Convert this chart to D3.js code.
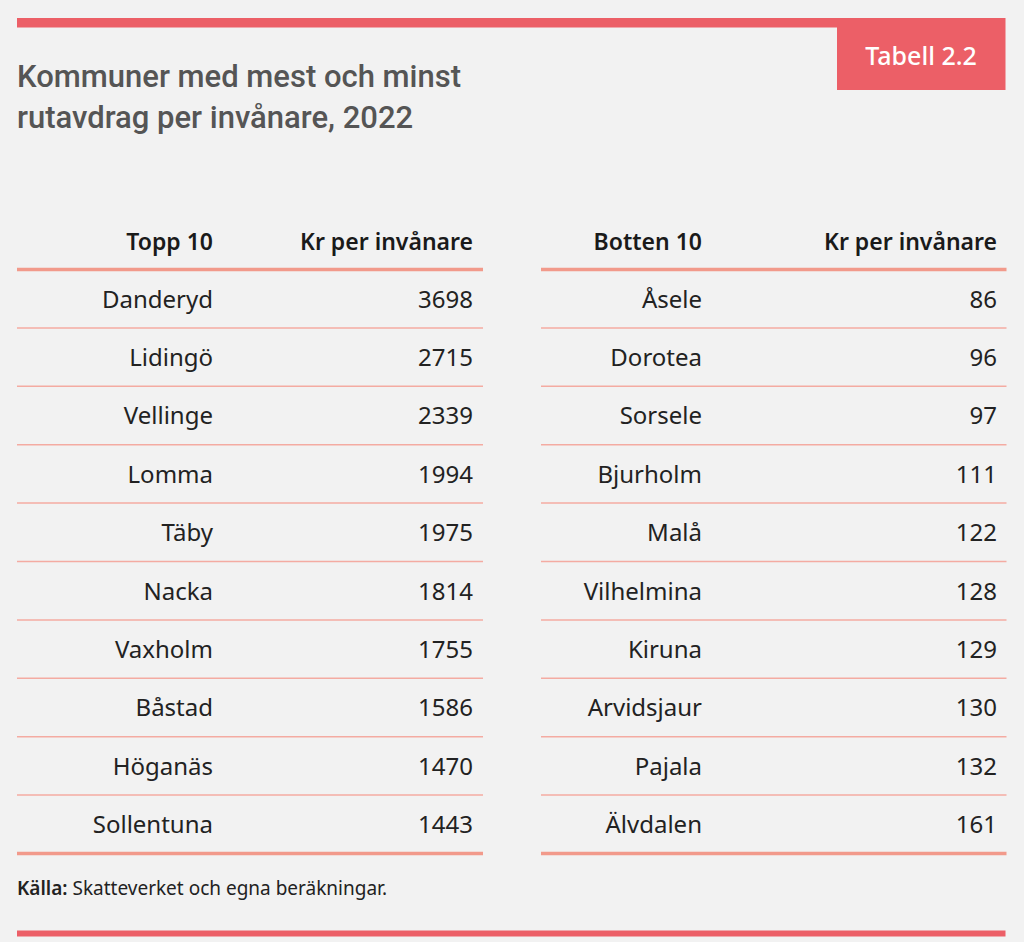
<!DOCTYPE html>
<html>
<head>
<meta charset="utf-8">
<script src="https://cdn.jsdelivr.net/npm/d3@7"></script>
<style>
  html, body { margin: 0; padding: 0; background: #f2f2f2; }
  svg { display: block; }
</style>
</head>
<body>
<svg id="chart" width="1024" height="942"></svg>
<script>
// data
const titleLines = ['Kommuner med mest och minst', 'rutavdrag per invånare, 2022']
const tableLabel = 'Tabell 2.2'
const topHeaders = ['Topp 10', 'Kr per invånare']
const bottomHeaders = ['Botten 10', 'Kr per invånare']
const topNames = ['Danderyd', 'Lidingö', 'Vellinge', 'Lomma', 'Täby', 'Nacka', 'Vaxholm', 'Båstad', 'Höganäs', 'Sollentuna']
const topValues = [3698, 2715, 2339, 1994, 1975, 1814, 1755, 1586, 1470, 1443]
const bottomNames = ['Åsele', 'Dorotea', 'Sorsele', 'Bjurholm', 'Malå', 'Vilhelmina', 'Kiruna', 'Arvidsjaur', 'Pajala', 'Älvdalen']
const bottomValues = [86, 96, 97, 111, 122, 128, 129, 130, 132, 161]
const sourceBold = 'Källa:'
const sourceText = ' Skatteverket och egna beräkningar.'

const red = '#ec5f67'
const salmon = '#f29a8b'
const thin = '#f4aba2'
const font = '"Noto Sans", "Open Sans", sans-serif'

const svg = d3.select('#chart')

// frame
svg.append('rect').attr('x', 17).attr('y', 18).attr('width', 988).attr('height', 9.5).attr('fill', red)
svg.append('rect').attr('x', 837).attr('y', 18).attr('width', 168.5).attr('height', 72).attr('fill', red)
svg.append('text')
  .attr('x', 921).attr('y', 65)
  .attr('text-anchor', 'middle')
  .style('font-family', font).style('font-size', '25px').style('font-weight', 500)
  .attr('fill', '#fff')
  .text(tableLabel)
svg.append('rect').attr('x', 17).attr('y', 930.5).attr('width', 988.5).attr('height', 6).attr('fill', red)

// title
svg.append('g')
  .selectAll('text')
  .data(titleLines)
  .enter()
  .append('text')
  .attr('x', 17)
  .attr('y', (d, i) => 87 + i * 41)
  .style('font-family', 'Roboto, sans-serif')
  .style('font-size', '31px')
  .style('font-weight', 500)
  .attr('fill', '#555')
  .text((d) => d)

function drawTable(g, x0, x1, nameX, valueX, headers, names, values) {
  const y = d3.scaleBand()
    .domain(names)
    .range([269.5, 853.5])
    .padding(0)

  g.selectAll('text.head')
    .data(headers)
    .enter()
    .append('text')
    .attr('class', 'head')
    .attr('x', (d, i) => (i === 0 ? nameX : valueX))
    .attr('y', 250)
    .attr('text-anchor', 'end')
    .style('font-family', font).style('font-size', '23px').style('font-weight', 600)
    .attr('fill', '#1a1a1a')
    .text((d) => d)

  // thin separators
  g.selectAll('line.sep')
    .data(names.slice(1))
    .enter()
    .append('line')
    .attr('class', 'sep')
    .attr('x1', x0).attr('x2', x1)
    .attr('y1', (d) => y(d)).attr('y2', (d) => y(d))
    .attr('stroke', thin).attr('stroke-width', 1.5)

  // thick rules
  g.selectAll('line.rule')
    .data(y.range())
    .enter()
    .append('line')
    .attr('class', 'rule')
    .attr('x1', x0).attr('x2', x1)
    .attr('y1', (d) => d).attr('y2', (d) => d)
    .attr('stroke', salmon).attr('stroke-width', 3.5)

  const rows = g.selectAll('g.row')
    .data(names)
    .enter()
    .append('g')
    .attr('class', 'row')
    .attr('transform', (d) => `translate(0,${y(d) + 38})`)

  rows.append('text')
    .attr('x', nameX)
    .attr('text-anchor', 'end')
    .style('font-family', font).style('font-size', '24px')
    .attr('fill', '#222')
    .text((d) => d)

  rows.append('text')
    .attr('x', valueX)
    .attr('text-anchor', 'end')
    .style('font-family', font).style('font-size', '24px')
    .attr('fill', '#222')
    .text((d, i) => values[i])
}

drawTable(svg.append('g'), 17, 483, 213, 473, topHeaders, topNames, topValues)
drawTable(svg.append('g'), 541, 1006.5, 702, 997, bottomHeaders, bottomNames, bottomValues)

// source
const src = svg.append('text')
  .attr('x', 17).attr('y', 895)
  .style('font-family', font).style('font-size', '19px')
  .attr('fill', '#222')
src.append('tspan').style('font-weight', 600).text(sourceBold)
src.append('tspan').text(sourceText)
</script>
</body>
</html>
